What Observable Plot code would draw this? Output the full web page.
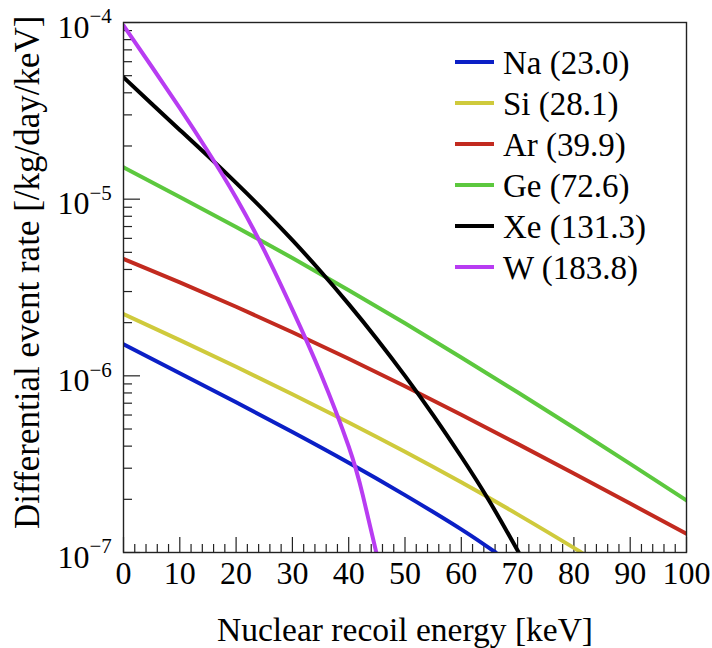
<!DOCTYPE html>
<html>
<head>
<meta charset="utf-8">
<script src="https://cdn.jsdelivr.net/npm/d3@7"></script>
<script src="https://cdn.jsdelivr.net/npm/@observablehq/plot@0.6"></script>
<style>
  html, body { margin: 0; padding: 0; background: #fff; }
  #chart svg { display: block; }
  #chart svg text { font-family: 'Liberation Serif', 'Times New Roman', serif !important; }
</style>
</head>
<body>
<div id="chart"></div>
<script>
// Differential WIMP-nucleus event rate vs. nuclear recoil energy, per target nucleus
// Energies in keV, rates in events /kg/day/keV

const energyNa = [0, 10, 20, 30, 40, 50, 60, 66.1];
const rateNa   = [1.507e-6, 1.035e-6, 7.079e-7, 4.808e-7, 3.221e-7, 2.113e-7, 1.352e-7, 1.0e-7];

const energySi = [0, 10, 20, 30, 40, 50, 60, 70, 80, 81.2];
const rateSi   = [2.239e-6, 1.592e-6, 1.125e-6, 7.870e-7, 5.445e-7, 3.715e-7, 2.495e-7, 1.644e-7, 1.062e-7, 1.0e-7];

const energyAr = [0, 10, 20, 30, 40, 50, 60, 70, 80, 90, 100];
const rateAr   = [4.592e-6, 3.381e-6, 2.460e-6, 1.766e-6, 1.250e-6, 8.730e-7, 6.026e-7, 4.121e-7, 2.799e-7, 1.892e-7, 1.276e-7];

const energyGe = [0, 10, 20, 30, 40, 50, 60, 70, 80, 90, 100];
const rateGe   = [1.514e-5, 1.030e-5, 6.966e-6, 4.645e-6, 3.055e-6, 1.982e-6, 1.271e-6, 8.072e-7, 5.082e-7, 3.177e-7, 1.972e-7];

const energyXe = [0, 5, 10, 15, 20, 25, 30, 35, 40, 45, 50, 55, 60, 65, 70.2];
const rateXe   = [4.898e-5, 3.467e-5, 2.466e-5, 1.754e-5, 1.236e-5, 8.590e-6, 5.861e-6, 3.908e-6, 2.547e-6, 1.618e-6, 1.0e-6, 5.998e-7, 3.483e-7, 1.950e-7, 1.0e-7];

const energyW  = [0, 5, 10, 15, 20, 25, 30, 35, 40, 42.5, 44.9];
const rateW    = [9.616e-5, 5.636e-5, 3.273e-5, 1.862e-5, 1.019e-5, 5.129e-6, 2.371e-6, 1.035e-6, 3.981e-7, 2.113e-7, 1.0e-7];

const seriesNames  = ["Na (23.0)", "Si (28.1)", "Ar (39.9)", "Ge (72.6)", "Xe (131.3)", "W (183.8)"];
const seriesColors = ["#0b1fc6", "#cfca3c", "#c22a1f", "#5cc83e", "#000000", "#b83cf2"];
const seriesEnergy = [energyNa, energySi, energyAr, energyGe, energyXe, energyW];
const seriesRate   = [rateNa, rateSi, rateAr, rateGe, rateXe, rateW];

const xMajorTicks = [0, 10, 20, 30, 40, 50, 60, 70, 80, 90, 100];
const yMajorTicks = [1e-7, 1e-6, 1e-5, 1e-4];

const xTitle = "Nuclear recoil energy [keV]";
const yTitle = "Differential event rate [/kg/day/keV]";

// long-format table for the line mark
const rows = seriesNames.flatMap((name, k) =>
  seriesEnergy[k].map((e, i) => ({series: name, energy: e, rate: seriesRate[k][i]}))
);

const xMinorTicks = d3.range(0, 101, 2).filter(v => v % 10 !== 0);
const yMinorTicks = [1e-7, 1e-6, 1e-5].flatMap(d => d3.range(2, 10).map(m => m * d));

const W = 712, H = 648;
const mL = 123, mR = 26, mT = 22, mB = 96;
const frameW = W - mL - mR, frameH = H - mT - mB;
const font = "'Liberation Serif', 'Times New Roman', serif";
const tickColor = "#222";

const chart = Plot.plot({
  width: W,
  height: H,
  marginLeft: mL, marginRight: mR, marginTop: mT, marginBottom: mB,
  style: {fontFamily: font, background: "#fff", color: "#000"},
  x: {domain: [0, 100], axis: null},
  y: {type: "log", domain: [1e-7, 1e-4], axis: null},
  color: {domain: seriesNames, range: seriesColors},
  marks: [
    // inward ticks on the bottom and left edges
    Plot.tickX(xMajorTicks, {x: d => d, insetTop: frameH - 15, stroke: tickColor, strokeWidth: 1.2}),
    Plot.tickX(xMinorTicks, {x: d => d, insetTop: frameH - 8, stroke: tickColor, strokeWidth: 1.2}),
    Plot.tickY(yMajorTicks, {y: d => d, insetRight: frameW - 17, stroke: tickColor, strokeWidth: 1.2}),
    Plot.tickY(yMinorTicks, {y: d => d, insetRight: frameW - 9, stroke: tickColor, strokeWidth: 1.2}),

    // curves
    Plot.line(rows, {x: "energy", y: "rate", z: "series", stroke: "series",
                     strokeWidth: 4, curve: "natural", clip: true}),

    Plot.frame({stroke: tickColor, strokeWidth: 1.4}),

    // x tick labels
    Plot.text(xMajorTicks, {x: d => d, frameAnchor: "bottom", lineAnchor: "top", dy: 9,
                            text: d => String(d), fontSize: 32, fontFamily: font, fill: "#000"}),
    // y tick labels as 10 with a raised exponent
    Plot.text(yMajorTicks, {y: d => d, frameAnchor: "left", textAnchor: "end", lineAnchor: "middle",
                            dx: -34, dy: 5, text: () => "10", fontSize: 32, fontFamily: font, fill: "#000"}),
    Plot.text(yMajorTicks, {y: d => d, frameAnchor: "left", textAnchor: "start", lineAnchor: "middle",
                            dx: -34, dy: -6, text: d => "\u2212" + Math.round(-Math.log10(d)),
                            fontSize: 21, fontFamily: font, fill: "#000"}),

    // axis titles
    Plot.text([xTitle], {frameAnchor: "bottom", lineAnchor: "bottom", dy: 88,
                         text: d => d, fontSize: 33.5, fontFamily: font, fill: "#000"}),
    Plot.text([yTitle], {frameAnchor: "top-left", textAnchor: "end", lineAnchor: "bottom",
                         rotate: -90, dx: -85, dy: -7, text: d => d, fontSize: 35, fontFamily: font, fill: "#000"})
  ]
});

document.getElementById("chart").append(chart);

// legend in the upper right of the frame
const svg = d3.select(chart);
const legend = svg.append("g")
  .attr("font-size", 33)
  .attr("text-anchor", "start");
seriesNames.forEach((name, i) => {
  const cy = 62 + i * 41;
  legend.append("line")
    .attr("x1", 455).attr("x2", 494).attr("y1", cy).attr("y2", cy)
    .attr("stroke", seriesColors[i]).attr("stroke-width", 4);
  legend.append("text")
    .attr("x", 503).attr("y", cy).attr("dy", "0.35em")
    .attr("text-anchor", "start")
    .style("font-family", font)
    .attr("fill", "#000").text(name);
});
</script>
</body>
</html>
